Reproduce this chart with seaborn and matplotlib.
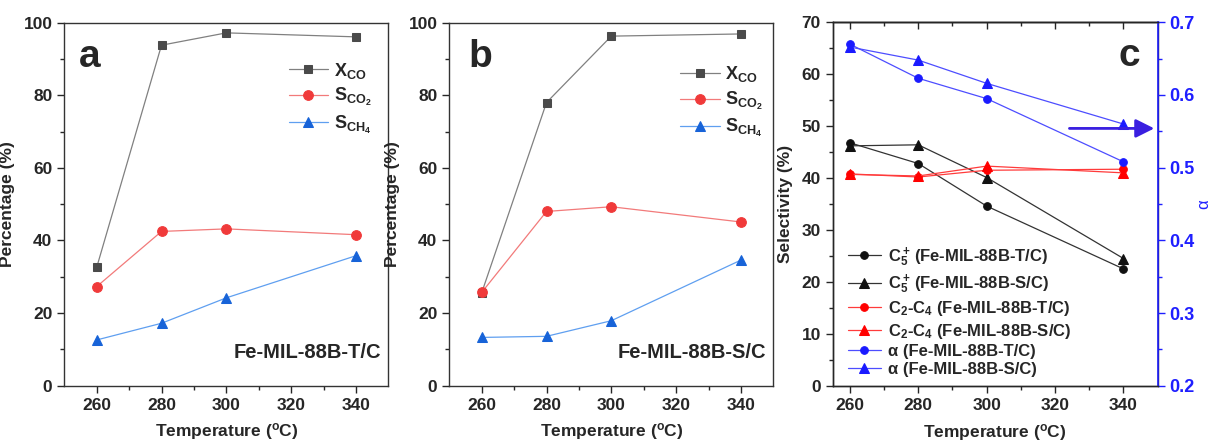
import matplotlib
matplotlib.use("Agg")
import matplotlib.pyplot as plt
import seaborn as sns

# ---------------- data ----------------
temps = [260, 280, 300, 340]

a_xco = [32.6, 93.8, 97.2, 96.1]
a_sco2 = [27.3, 42.5, 43.2, 41.6]
a_sch4 = [12.6, 17.2, 24.2, 35.8]

b_xco = [25.6, 78.0, 96.3, 96.9]
b_sco2 = [25.7, 48.0, 49.3, 45.1]
b_sch4 = [13.3, 13.6, 17.9, 34.6]

c5_tc = [46.8, 42.8, 34.6, 22.5]
c5_sc = [46.2, 46.4, 40.1, 24.5]
c24_tc = [40.8, 40.2, 41.5, 41.7]
c24_sc = [40.7, 40.4, 42.3, 41.0]
alpha_tc = [0.670, 0.623, 0.595, 0.508]
alpha_sc = [0.666, 0.648, 0.616, 0.560]

labels_ab = [r'$\mathbf{X_{CO}}$', r'$\mathbf{S_{CO_2}}$', r'$\mathbf{S_{CH_4}}$']
labels_c = [r'C$_5^+\,$(Fe-MIL-88B-T/C)', r'C$_5^+\,$(Fe-MIL-88B-S/C)',
            r'C$_2$-C$_4$ (Fe-MIL-88B-T/C)', r'C$_2$-C$_4$ (Fe-MIL-88B-S/C)',
            'α (Fe-MIL-88B-T/C)', 'α (Fe-MIL-88B-S/C)']

# ---------------- style ----------------
sns.set_theme(style="ticks")
plt.rcParams['font.family'] = ['Liberation Sans', 'DejaVu Sans']
plt.rcParams['font.weight'] = 'bold'
plt.rcParams['axes.labelweight'] = 'bold'
plt.rcParams['mathtext.fontset'] = 'custom'
plt.rcParams['mathtext.rm'] = 'Liberation Sans:bold'
plt.rcParams['mathtext.bf'] = 'Liberation Sans:bold'
plt.rcParams['mathtext.it'] = 'Liberation Sans:bold'
plt.rcParams['axes.linewidth'] = 1.0

fig = plt.figure(figsize=(12.12, 4.44), dpi=100)
W, H = 1212, 444


def add_ax(x0, x1, y0=22.7, y1=385.7):
    return fig.add_axes([x0 / W, (H - y1) / H, (x1 - x0) / W, (y1 - y0) / H])


axa = add_ax(64.3, 388.3)
axb = add_ax(449.3, 773.3)
axc = add_ax(832.7, 1157.7, 22.3, 385.7)

gray_l, gray_m = '#808080', '#4a4a4a'
red_l, red_m = '#f27a7a', '#f03a3a'
blue_l, blue_m = '#5f9ff0', '#1763d8'


def style_ab(ax):
    ax.set_xlim(250, 350)
    ax.set_ylim(0, 100)
    ax.set_xticks([260, 280, 300, 320, 340])
    ax.set_xticks([270, 290, 310, 330], minor=True)
    ax.set_yticks([0, 20, 40, 60, 80, 100])
    ax.set_yticks([10, 30, 50, 70, 90], minor=True)
    ax.tick_params(which='major', length=5, width=1, labelsize=12.5, direction='out')
    ax.tick_params(which='minor', length=3, width=1, direction='out')
    for lab in ax.get_xticklabels() + ax.get_yticklabels():
        lab.set_fontweight('bold')
    ax.set_xlabel('Temperature ($^\\mathbf{o}$C)', fontsize=12.5, labelpad=6)
    ax.set_ylabel('Percentage (%)', fontsize=12.5, labelpad=6)
    for s in ax.spines.values():
        s.set_color('#333333')


def draw_ab(ax, xco, sco2, sch4, letter, name, letter_x, leg_anchor):
    sns.lineplot(x=temps, y=xco, ax=ax, color=gray_l, lw=0.9, marker='s', ms=6,
                 mfc=gray_m, mec=gray_m, label=labels_ab[0], sort=False)
    sns.lineplot(x=temps, y=sco2, ax=ax, color=red_l, lw=0.9, marker='o', ms=7,
                 mfc=red_m, mec=red_m, label=labels_ab[1], sort=False)
    sns.lineplot(x=temps, y=sch4, ax=ax, color=blue_l, lw=0.9, marker='^', ms=7,
                 mfc=blue_m, mec=blue_m, label=labels_ab[2], sort=False)
    style_ab(ax)
    ax.legend(loc='upper left', bbox_to_anchor=leg_anchor, frameon=False,
              fontsize=13, handlelength=2.2, labelspacing=0.3, handletextpad=0.3,
              borderaxespad=0.0)
    ax.text(letter_x, 0.905, letter, transform=ax.transAxes, fontsize=28,
            fontweight='bold', ha='left', va='center')
    ax.text(0.977, 0.092, name, transform=ax.transAxes, fontsize=14.5,
            fontweight='bold', ha='right', va='center')


draw_ab(axa, a_xco, a_sco2, a_sch4, 'a', 'Fe-MIL-88B-T/C', 0.045, (0.67, 0.915))
draw_ab(axb, b_xco, b_sco2, b_sch4, 'b', 'Fe-MIL-88B-S/C', 0.058, (0.69, 0.905))

# ---------------- panel c ----------------
blk_l, blk_m = '#333333', '#111111'
rc_l, rc_m = '#ff3b3b', '#ff0000'
bc_l, bc_m = '#4d4dff', '#1a1aff'
axis_blue = '#1f1fff'

sns.lineplot(x=temps, y=c5_tc, ax=axc, color=blk_l, lw=0.9, marker='o', ms=5.5,
             mfc=blk_m, mec=blk_m, label=labels_c[0], sort=False)
sns.lineplot(x=temps, y=c5_sc, ax=axc, color=blk_l, lw=0.9, marker='^', ms=6.5,
             mfc=blk_m, mec=blk_m, label=labels_c[1], sort=False)
sns.lineplot(x=temps, y=c24_tc, ax=axc, color=rc_l, lw=0.9, marker='o', ms=5.5,
             mfc=rc_m, mec=rc_m, label=labels_c[2], sort=False)
sns.lineplot(x=temps, y=c24_sc, ax=axc, color=rc_l, lw=0.9, marker='^', ms=6.5,
             mfc=rc_m, mec=rc_m, label=labels_c[3], sort=False)

axc.set_xlim(255, 350)
axc.set_ylim(0, 70)
axc.set_xticks([260, 280, 300, 320, 340])
axc.set_xticks([270, 290, 310, 330], minor=True)
axc.set_yticks(range(0, 71, 10))
axc.set_yticks(range(5, 70, 10), minor=True)
axc.tick_params(which='major', length=5, width=1, labelsize=12.5, direction='out')
axc.tick_params(which='minor', length=3, width=1, direction='out')
for lab in axc.get_xticklabels() + axc.get_yticklabels():
    lab.set_fontweight('bold')
axc.set_xlabel('Temperature ($^\\mathbf{o}$C)', fontsize=12.5, labelpad=7)
axc.set_ylabel('Selectivity (%)', fontsize=12.5, labelpad=6)

top = axc.secondary_xaxis('top')
top.set_xticks([260, 280, 300, 320, 340])
top.set_xticks([270, 290, 310, 330], minor=True)
top.tick_params(which='major', direction='in', length=5, width=1, labeltop=False)
top.tick_params(which='minor', direction='in', length=3, width=1)
top.set_xticklabels([])

axr = axc.twinx()
sns.lineplot(x=temps, y=alpha_tc, ax=axr, color=bc_l, lw=0.9, marker='o', ms=5.5,
             mfc=bc_m, mec=bc_m, label=labels_c[4], sort=False)
sns.lineplot(x=temps, y=alpha_sc, ax=axr, color=bc_l, lw=0.9, marker='^', ms=6.5,
             mfc=bc_m, mec=bc_m, label=labels_c[5], sort=False)
axr.set_ylim(0.2, 0.7)
axr.set_yticks([0.2, 0.3, 0.4, 0.5, 0.6, 0.7])
axr.set_yticks([0.25, 0.35, 0.45, 0.55, 0.65], minor=True)
axr.tick_params(axis='y', which='major', length=5, width=1, colors=axis_blue,
                labelsize=13, direction='out')
axr.tick_params(axis='y', which='minor', length=3, width=1, colors=axis_blue,
                direction='out')
for lab in axr.get_yticklabels():
    lab.set_fontweight('bold')
axr.spines['right'].set_color(axis_blue)
axr.spines['right'].set_linewidth(1.2)
axr.set_ylabel('α', color=axis_blue, fontsize=12, labelpad=1, fontweight='normal')

axr.annotate('', xy=(349.0, 0.554), xytext=(324.2, 0.554), xycoords='data',
             arrowprops=dict(arrowstyle='-|>', color='#3a1fe0', lw=2,
                             mutation_scale=28, shrinkA=0, shrinkB=0))

h1, l1 = axc.get_legend_handles_labels()
h2, l2 = axr.get_legend_handles_labels()
if axc.get_legend() is not None:
    axc.get_legend().remove()
axr.legend(h1 + h2, l1 + l2, loc='lower left', bbox_to_anchor=(0.0, -0.018),
           frameon=False, fontsize=12, handlelength=2.0, labelspacing=0.2,
           handletextpad=0.4)

axc.text(0.913, 0.906, 'c', transform=axc.transAxes, fontsize=28,
         fontweight='bold', ha='center', va='center')

fig.savefig('out.png', dpi=100)
